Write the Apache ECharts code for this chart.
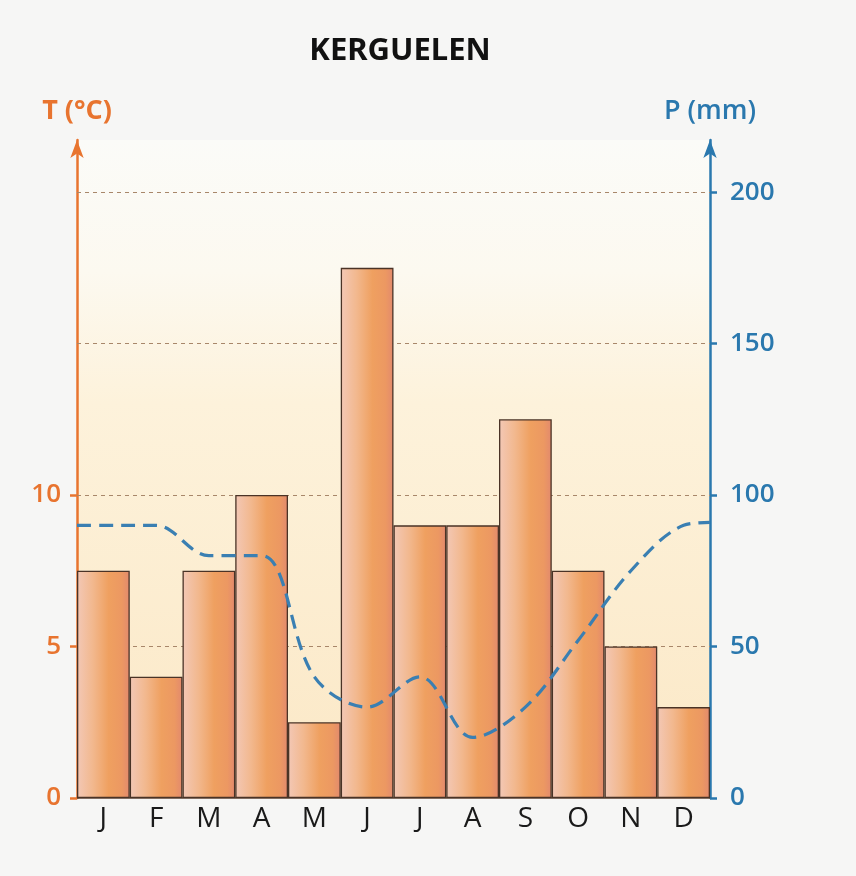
<!DOCTYPE html>
<html>
<head>
<meta charset="utf-8">
<script src="https://cdn.jsdelivr.net/npm/echarts@6/dist/echarts.min.js"></script>
<style>
html,body{margin:0;padding:0;background:#f6f6f5;}
#chart{width:856px;height:876px;}
</style>
</head>
<body>
<div id="chart"></div>
<script>
// ---- data ----
const months = ['J','F','M','A','M','J','J','A','S','O','N','D'];
const precipitation = [75, 40, 75, 100, 25, 175, 90, 90, 125, 75, 50, 30]; // mm
const temperature = [9.0, 9.0, 8.0, 8.0, 4.0, 3.0, 4.0, 2.0, 3.0, 5.2, 7.5, 9.0]; // °C
const tempStartEdge = 9.0;
const tempEndEdge = 9.1;
const tLabels = [0, 5, 10];
const pLabels = [0, 50, 100, 150, 200];
const gridValues = [50, 100, 150, 200];

// ---- build ----
const tMax = 21.72, pMax = 217.2;
const lineData = [[0, tempStartEdge]]
  .concat(temperature.map((v, i) => [i + 0.5, v]))
  .concat([[months.length, tempEndEdge]]);

const ORANGE = '#e8742f', BLUE = '#2a78ae';
const chart = echarts.init(document.getElementById('chart'));
chart.setOption({
  animation: false,
  backgroundColor: '#f6f6f5',
  title: {
    text: 'KERGUELEN', left: 395, top: 31, textAlign: 'center',
    textStyle: {fontFamily: 'Noto Sans', fontWeight: 'bold', fontSize: 31, color: '#111'}
  },
  grid: {
    left: 77, right: 146, top: 140, bottom: 78, show: true, borderWidth: 0,
    backgroundColor: {
      type: 'linear', x: 0, y: 0, x2: 0, y2: 1,
      colorStops: [
        {offset: 0, color: '#fbfbf8'},
        {offset: 0.2, color: '#fcf9f0'},
        {offset: 0.4, color: '#fdf2db'},
        {offset: 1, color: '#fbe8c6'}
      ]
    }
  },
  xAxis: [
    {
      type: 'category', data: months, position: 'bottom',
      axisLine: {lineStyle: {color: '#5b4030', width: 1.5}},
      axisTick: {show: false},
      axisLabel: {color: '#1a1a1a', fontFamily: 'Open Sans', fontSize: 28, margin: 7}
    },
    {type: 'value', min: 0, max: months.length, show: false}
  ],
  yAxis: [
    {
      type: 'value', min: 0, max: tMax, position: 'left',
      name: 'T (°C)', nameLocation: 'end', nameGap: 15,
      nameTextStyle: {color: ORANGE, fontFamily: 'Open Sans', fontWeight: 'bold', fontSize: 27, align: 'center'},
      axisLine: {show: true, lineStyle: {color: ORANGE, width: 2.5}, symbol: ['none', 'arrow'], symbolSize: [10, 18]},
      axisTick: {show: true, customValues: tLabels, length: 7, lineStyle: {color: ORANGE, width: 2.5}},
      axisLabel: {customValues: tLabels, color: ORANGE, fontFamily: 'Open Sans', fontWeight: 600, fontSize: 26, margin: 16},
      splitLine: {show: false}
    },
    {
      type: 'value', min: 0, max: pMax, position: 'right',
      name: 'P (mm)', nameLocation: 'end', nameGap: 15,
      nameTextStyle: {color: BLUE, fontFamily: 'Open Sans', fontWeight: 600, fontSize: 27, align: 'center'},
      axisLine: {show: true, lineStyle: {color: BLUE, width: 2.5}, symbol: ['none', 'arrow'], symbolSize: [10, 18]},
      axisTick: {show: true, customValues: pLabels, length: 7, lineStyle: {color: BLUE, width: 2.5}},
      axisLabel: {customValues: pLabels, color: BLUE, fontFamily: 'Open Sans', fontWeight: 600, fontSize: 26, margin: 20},
      splitLine: {show: false}
    }
  ],
  series: [
    {
      type: 'bar', xAxisIndex: 0, yAxisIndex: 1, data: precipitation,
      barCategoryGap: '0%', z: 3,
      itemStyle: {
        borderColor: '#4a3326', borderWidth: 1.3,
        color: {
          type: 'linear', x: 0, y: 0, x2: 1, y2: 0,
          colorStops: [
            {offset: 0, color: '#f3c8b6'},
            {offset: 0.3, color: '#f2b88e'},
            {offset: 0.6, color: '#efa060'},
            {offset: 0.85, color: '#ec9862'},
            {offset: 1, color: '#e2896e'}
          ]
        }
      },
      markLine: {
        silent: true, symbol: 'none', z: 1,
        label: {show: false},
        lineStyle: {type: [4, 4], color: '#a8876a', width: 1},
        data: gridValues.map(v => ({yAxis: v}))
      }
    },
    {
      type: 'line', xAxisIndex: 1, yAxisIndex: 0, data: lineData,
      smooth: 0.35, symbol: 'none', z: 5,
      lineStyle: {color: '#3a7fb2', width: 3.2, type: [14, 8]}
    }
  ]
});
</script>
</body>
</html>
